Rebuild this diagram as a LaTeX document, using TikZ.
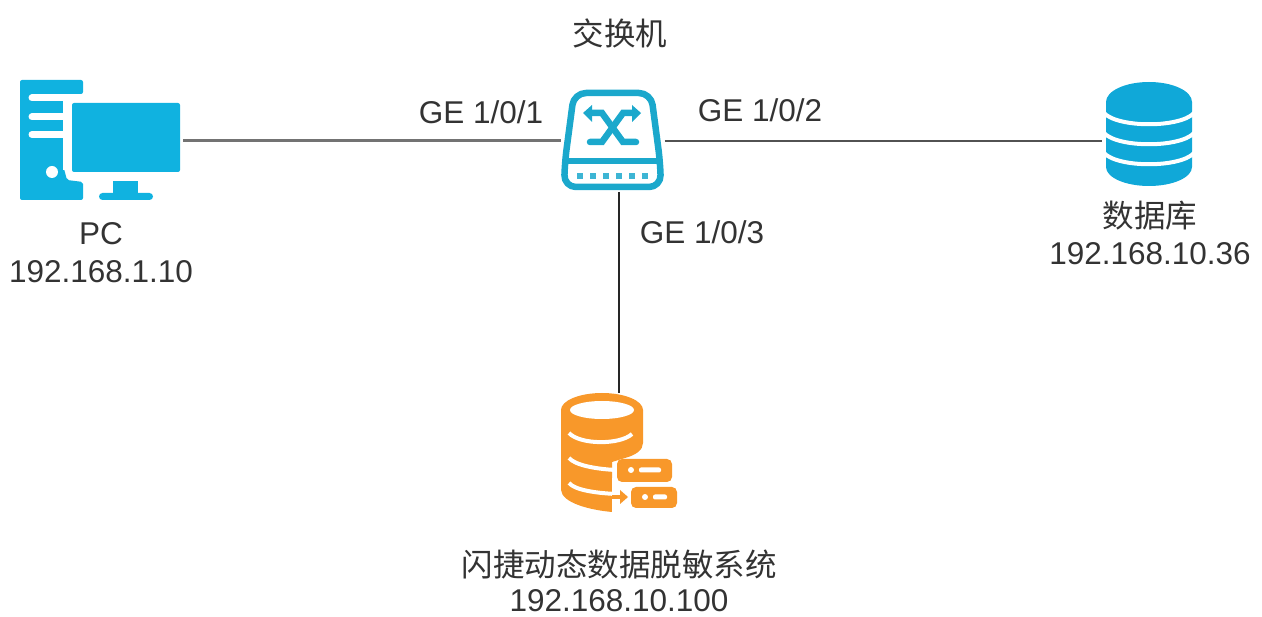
\documentclass[tikz,border=0pt]{standalone}
\usepackage{fontspec}
\setmainfont{Liberation Sans}
\newfontfamily\cjk{Noto Sans CJK SC}
\definecolor{pcblue}{HTML}{10B2E0}
\definecolor{swblue}{HTML}{1BA8CC}
\definecolor{dbblue}{HTML}{10A8D8}
\definecolor{sysorange}{HTML}{F8982A}
\begin{document}
\begin{tikzpicture}[x=1pt,y=-1pt,
    every node/.style={inner sep=0pt,outer sep=0pt,font=\fontsize{31.5}{38}\selectfont,align=center,text=black!80},
    icon/.style={minimum width=#1},
    wire/.style={line width=3pt,color=black!55},
    cut/.style={draw=white,line width=4pt,line cap=round}]
    \useasboundingbox (0,0) rectangle (1262,617);
    % icon boxes
    \node[icon=164pt,minimum height=120pt] (pc) at (101,141) {};
    \node[icon=104pt,minimum height=102pt] (switch) at (612.5,141) {};
    \node[icon=94pt,minimum height=118pt] (db) at (1149,141) {};
    \node[icon=120pt,minimum height=120pt] (sys) at (619,453) {};
    % connectors
    \draw[wire] (pc) -- (switch);
    \draw[wire,color=black!68,line width=2.5pt] (switch) -- (db);
    \draw[color=black!85,line width=2pt] (sys.north |- switch.south) -- (sys.north);
    % PC
    \fill[pcblue,rounded corners=2pt] (20,80) -- (83,80) -- (83,94) -- (63,94) -- (63,165)
        -- (67,180) -- (83,182) -- (83,200) -- (20,200) -- cycle;
    \foreach \y in {98,117,134.5} \draw[cut,line width=7pt] (32,\y) -- (66,\y);
    \fill[white] (63,94) rectangle (71,170);
    \fill[white] (52,172) circle (6);
    \fill[pcblue,rounded corners=2pt] (72,103) rectangle (180,172);
    \fill[pcblue] (113,181) rectangle (138,194);
    \fill[pcblue,rounded corners=3.5pt] (99,193) rectangle (153,200);
    % switch
    \draw[swblue,line width=6.5pt,rounded corners=12pt,line join=round] (574,93) -- (651,93) -- (660,161)
        -- (661,187) -- (564,187) -- (565,161) -- cycle;
    \draw[swblue,line width=5.5pt] (564,161) -- (661,161);
    \foreach \x in {580,593,606,619,632,645} \fill[swblue!85] (\x-3,173) rectangle (\x+3,179);
    \draw[swblue,line width=6.5pt,line cap=round] (590,142) -- (602,142) -- (623,113) -- (635,113);
    \draw[swblue,line width=6.5pt,line cap=round] (636,142) -- (623,142) -- (602,113) -- (590,113);
    \fill[swblue] (583,113) -- (592,105) -- (592,122) -- cycle;
    \fill[swblue] (641,113) -- (632,105) -- (632,122) -- cycle;
    % database
    \fill[dbblue] (1106,102) -- (1106,167) arc[x radius=43,y radius=19,start angle=180,end angle=0,y=-1pt] -- (1192,102) -- cycle;
    \foreach \y in {113,133,153}
        \draw[white,line width=4pt] (1104,\y) .. controls (1118,\y+15) and (1180,\y+15) .. (1194,\y);
    \fill[dbblue] (1149,102) ellipse (43 and 20);
    % masking system
    \fill[sysorange] (561,410) -- (561,490) .. controls (562,503) and (590,510) .. (612,512)
        -- (612,462) -- (625,458) .. controls (636,455) and (643,450) .. (643,443) -- (643,410) -- cycle;
    \fill[sysorange] (602,410) ellipse (41 and 17);
    \fill[white] (602,410) ellipse (32 and 9);
    \draw[white,line width=4pt] (569,433) .. controls (580,445) and (620,445) .. (632,434);
    \draw[white,line width=4pt] (569,458) .. controls (575,465) and (595,469) .. (616,470);
    \draw[white,line width=4pt] (569,483) .. controls (575,490) and (595,493) .. (616,494);
    \fill[white] (612,478) rectangle (630,512);
    \fill[sysorange,rounded corners=5pt] (617,459) rectangle (672,482);
    \fill[white] (631,470) circle (3);
    \fill[white,rounded corners=2pt] (639,467.5) rectangle (661,472.5);
    \fill[sysorange,rounded corners=5pt] (631,487) rectangle (677,508);
    \fill[white] (645,497) circle (3);
    \fill[white,rounded corners=2pt] (653,494.5) rectangle (667,499.5);
    \draw[sysorange,line width=4pt] (612,497) -- (622,497);
    \fill[sysorange] (628,497) -- (620,490) -- (620,504) -- cycle;
    % labels
    \node (swname) at (620,33) {\cjk 交换机};
    \node (port1) at (481,112) {GE 1/0/1};
    \node (port2) at (760,110) {GE 1/0/2};
    \node (port3) at (702,232) {GE 1/0/3};
    \node (pcname) at (101,253) {PC\\192.168.1.10};
    \node (dbname) at (1150,233) {{\cjk 数据库}\\[-1pt]192.168.10.36};
    \node (sysname) at (619,581) {{\cjk 闪捷动态数据脱敏系统}\\[-3pt]192.168.10.100};
\end{tikzpicture}
\end{document}
